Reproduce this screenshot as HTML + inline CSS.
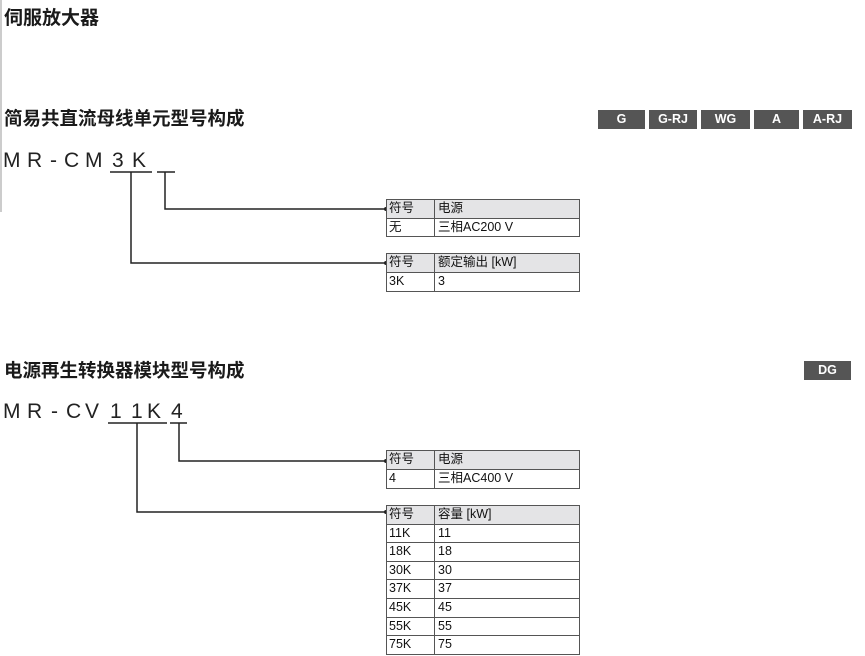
<!DOCTYPE html>
<html><head><meta charset="utf-8">
<style>
*{margin:0;padding:0;box-sizing:border-box}
body{width:865px;height:656px;background:#fff;position:relative;overflow:hidden;font-family:"Liberation Sans","Noto Sans CJK SC",sans-serif;color:#111}
.a{position:absolute}
.h{font-size:18.5px;font-weight:bold;line-height:20px;white-space:nowrap;color:#1a1a1a}
.b{position:absolute;background:#555;color:#fff;font-weight:bold;font-size:12.5px;text-align:center;line-height:19px;height:19px}
.c{position:absolute;font-size:21px;line-height:22px;color:#222}
.t{position:absolute;left:386px;width:194px;border:1.5px solid #555;border-bottom:none}
.r{display:flex;border-bottom:1.5px solid #555;font-size:12.5px;line-height:16px;color:#111}
.r div:first-child{width:48px;border-right:1.5px solid #555;padding-left:2px}
.r div:last-child{flex:1;padding-left:3px}
.hd{background:#e4e4e6}
</style></head><body>
<div class="a" style="left:0;top:0;width:2px;height:212px;background:#ccc"></div>
<div class="a h" style="left:4px;top:9px;font-size:19px">伺服放大器</div>
<div class="a h" style="left:4px;top:109px">简易共直流母线单元型号构成</div>
<div class="a h" style="left:4px;top:361px">电源再生转换器模块型号构成</div>

<div class="b" style="left:598px;top:110px;width:47px">G</div>
<div class="b" style="left:649px;top:110px;width:48px">G-RJ</div>
<div class="b" style="left:701px;top:110px;width:49px">WG</div>
<div class="b" style="left:754px;top:110px;width:45px">A</div>
<div class="b" style="left:803px;top:110px;width:49px">A-RJ</div>
<div class="b" style="left:804px;top:361px;width:47px">DG</div>

<div class="c" style="left:3px;top:150px">M</div>
<div class="c" style="left:27px;top:150px">R</div>
<div class="c" style="left:50px;top:150px">-</div>
<div class="c" style="left:64px;top:150px">C</div>
<div class="c" style="left:85px;top:150px">M</div>
<div class="c" style="left:112px;top:150px">3</div>
<div class="c" style="left:132px;top:150px">K</div>

<div class="c" style="left:3px;top:401px">M</div>
<div class="c" style="left:27px;top:401px">R</div>
<div class="c" style="left:51px;top:401px">-</div>
<div class="c" style="left:66px;top:401px">C</div>
<div class="c" style="left:85px;top:401px">V</div>
<div class="c" style="left:110px;top:401px">1</div>
<div class="c" style="left:131px;top:401px">1</div>
<div class="c" style="left:147px;top:401px">K</div>
<div class="c" style="left:171px;top:401px">4</div>

<svg class="a" style="left:0;top:0" width="865" height="656">
<g stroke="#222" stroke-width="1.5" fill="none">
<path d="M110 172H152M157 172H175M131 172V263H386M165 172V209H386"/>
<path d="M108 423H167M170 423H187M137 423V512H386M179 423V461H386"/>
</g>
<g fill="#222"><circle cx="386" cy="209" r="2"/><circle cx="386" cy="263" r="2"/><circle cx="386" cy="461" r="2"/><circle cx="386" cy="512" r="2"/></g>
</svg>

<div class="t" style="top:199px">
<div class="r hd" style="height:18.5px"><div>符号</div><div>电源</div></div>
<div class="r" style="height:18.5px"><div>无</div><div>三相AC200 V</div></div>
</div>
<div class="t" style="top:253px">
<div class="r hd" style="height:19px"><div>符号</div><div>额定输出 [kW]</div></div>
<div class="r" style="height:19px"><div>3K</div><div>3</div></div>
</div>
<div class="t" style="top:450px">
<div class="r hd" style="height:19px"><div>符号</div><div>电源</div></div>
<div class="r" style="height:19px"><div>4</div><div>三相AC400 V</div></div>
</div>
<div class="t" style="top:505px">
<div class="r hd" style="height:18.6px"><div>符号</div><div>容量 [kW]</div></div>
<div class="r" style="height:18.6px"><div>11K</div><div>11</div></div>
<div class="r" style="height:18.6px"><div>18K</div><div>18</div></div>
<div class="r" style="height:18.6px"><div>30K</div><div>30</div></div>
<div class="r" style="height:18.6px"><div>37K</div><div>37</div></div>
<div class="r" style="height:18.6px"><div>45K</div><div>45</div></div>
<div class="r" style="height:18.6px"><div>55K</div><div>55</div></div>
<div class="r" style="height:18.6px"><div>75K</div><div>75</div></div>
</div>
</body></html>
